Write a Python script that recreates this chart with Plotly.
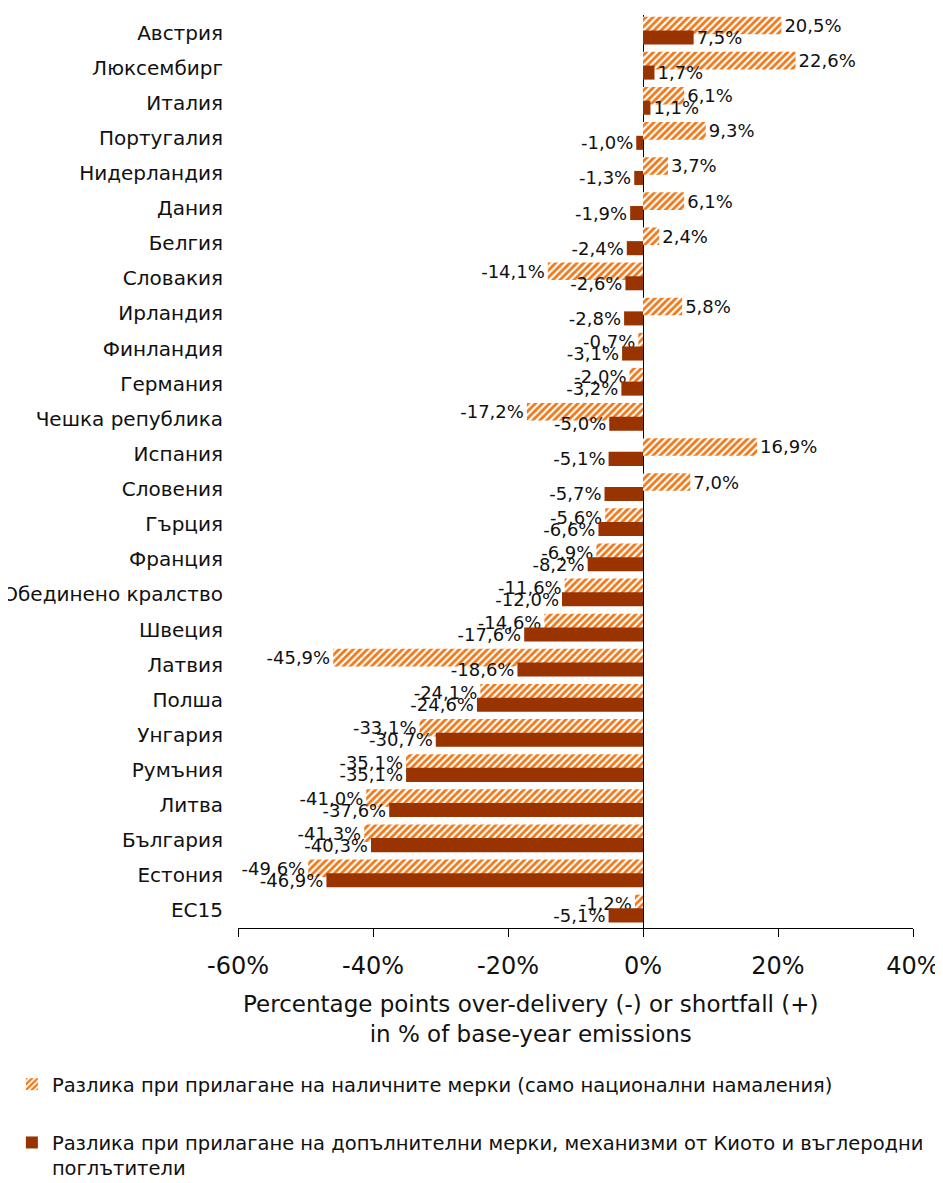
import plotly.graph_objects as go

countries = ["Австрия", "Люксембирг", "Италия", "Португалия", "Нидерландия", "Дания",
             "Белгия", "Словакия", "Ирландия", "Финландия", "Германия", "Чешка република",
             "Испания", "Словения", "Гърция", "Франция", "Обединено кралство", "Швеция",
             "Латвия", "Полша", "Унгария", "Румъния", "Литва", "България", "Естония", "ЕС15"]

existing = [20.5, 22.6, 6.1, 9.3, 3.7, 6.1, 2.4, -14.1, 5.8, -0.7, -2.0, -17.2,
            16.9, 7.0, -5.6, -6.9, -11.6, -14.6, -45.9, -24.1, -33.1, -35.1, -41.0, -41.3, -49.6, -1.2]

additional = [7.5, 1.7, 1.1, -1.0, -1.3, -1.9, -2.4, -2.6, -2.8, -3.1, -3.2, -5.0,
              -5.1, -5.7, -6.6, -8.2, -12.0, -17.6, -18.6, -24.6, -30.7, -35.1, -37.6, -40.3, -46.9, -5.1]

tick_vals = [-60, -40, -20, 0, 20, 40]
tick_text = ["-60%", "-40%", "-20%", "0%", "20%", "40%"]

name_existing = "Разлика при прилагане на наличните мерки (само национални намаления)"
name_additional = ("Разлика при прилагане на допълнителни мерки, механизми от Киото и въглеродни"
                   "<br>поглътители")
axis_title = "Percentage points over-delivery (-) or shortfall (+)<br>in % of base-year emissions"

ORANGE = "#F07818"
BROWN = "#993300"
FONT = "DejaVu Sans"
TEXT = "#111111"


def fmt(v):
    return f"{v:.1f}%".replace(".", ",")


fig = go.Figure()
fig.add_trace(go.Bar(
    y=countries, x=existing, orientation="h", name=name_existing,
    marker=dict(color="white",
                pattern=dict(shape="/", fgcolor=ORANGE, bgcolor="white", size=5, solidity=0.55,
                             fgopacity=1, fillmode="overlay"),
                line=dict(width=0)),
    offset=-0.45, width=0.5,
    text=[fmt(v) for v in existing], textposition="outside",
    textfont=dict(family=FONT, size=18, color=TEXT),
    constraintext="none", cliponaxis=False, legendgroup="a",
))
fig.add_trace(go.Bar(
    y=countries, x=additional, orientation="h", name=name_additional,
    marker=dict(color=BROWN, line=dict(width=0)),
    offset=-0.06, width=0.4,
    text=[fmt(v) for v in additional], textposition="outside",
    textfont=dict(family=FONT, size=18, color=TEXT),
    constraintext="none", cliponaxis=False, legendgroup="b",
))

fig.update_layout(
    width=935, height=1175,
    barmode="overlay",
    plot_bgcolor="white", paper_bgcolor="white",
    font=dict(family=FONT, color=TEXT),
    margin=dict(l=230, r=30, t=7, b=255, autoexpand=False),
    xaxis=dict(range=[-60, 40], tickvals=tick_vals, ticktext=tick_text,
               ticks="outside", ticklen=8, tickcolor="black",
               showline=True, linecolor="black", linewidth=1,
               showgrid=False, zeroline=True, zerolinecolor="black", zerolinewidth=1,
               tickfont=dict(size=24), ticklabelstandoff=8, automargin=False),
    yaxis=dict(autorange="reversed", showgrid=False, showline=False, ticks="",
               tickfont=dict(size=20), ticklabelstandoff=14, automargin=False),
    legend=dict(x=-0.335, y=-0.150, xanchor="left", yanchor="top",
                font=dict(size=19.5), tracegroupgap=30, valign="top",
                traceorder="grouped", bgcolor="rgba(0,0,0,0)"),
    annotations=[dict(text=axis_title, x=0.4326, y=-0.0997, xref="paper", yref="paper",
                      xanchor="center", yanchor="middle", showarrow=False,
                      font=dict(size=23))],
)

fig.write_html("out.html")
